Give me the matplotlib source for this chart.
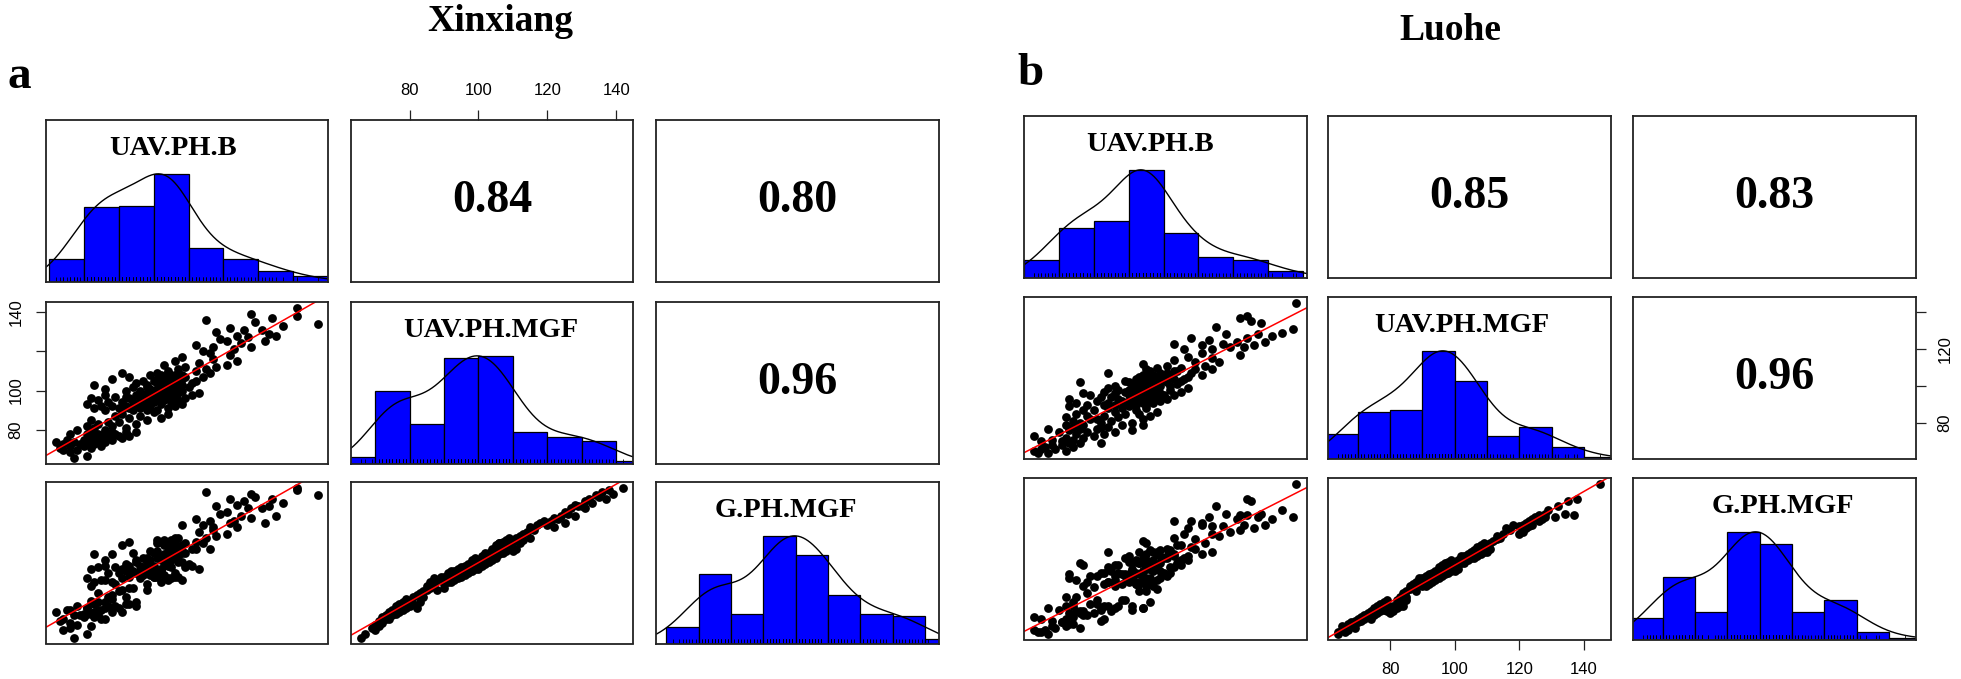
import numpy as np
import matplotlib
matplotlib.use("Agg")
import matplotlib.pyplot as plt
from matplotlib.transforms import blended_transform_factory

W, H = 1961, 679
SERIF = "Liberation Serif"
SANS = "Liberation Sans"

# -------------------------------------------------------------------
# 1.  data (cm), one entry per plot
# -------------------------------------------------------------------
xin_mgf = [
    66, 67, 69,
    70, 70, 71, 71, 72, 72, 72, 73, 73, 73, 74, 74, 74, 74, 75, 75, 75, 75,
    76, 76, 76, 76, 77, 77, 77, 77, 78, 78, 78, 78, 79, 79, 79, 79, 79,
    80, 80, 81, 81, 82, 82, 83, 83, 84, 84, 85, 85, 86, 86, 87, 87, 88, 88, 89,
    90, 90, 90, 90, 90, 91, 91, 91, 91, 91, 92, 92, 92, 92, 92,
    93, 93, 93, 93, 93, 94, 94, 94, 94, 94, 95, 95, 95, 95, 95,
    96, 96, 96, 96, 96, 97, 97, 97, 97, 97, 98, 98, 98, 98, 98,
    99, 99, 99, 99, 99, 99,
    100, 100, 100, 100, 100, 101, 101, 101, 101, 101,
    102, 102, 102, 102, 102, 102, 103, 103, 103, 103, 103,
    104, 104, 104, 104, 104, 104, 105, 105, 105, 105, 105,
    106, 106, 106, 106, 106, 107, 107, 107, 107, 107,
    108, 108, 108, 108, 108, 109, 109, 109, 109, 109,
    110, 110, 111, 111, 112, 112, 113, 113, 114, 115, 115, 116, 117, 118, 119,
    120, 121, 122, 122, 123, 124, 125, 125, 126, 127, 128, 128, 129,
    130, 131, 131, 132, 133, 134, 135, 136, 137, 138, 139,
    142]
xin_g = [
    60, 62, 65,
    64, 67, 66, 69, 68, 71, 70, 70, 72, 71, 72, 73, 70, 74, 73, 72, 75, 74,
    73, 75, 77, 74, 74, 76, 75, 78, 76, 77, 79, 75, 76, 78, 80, 77, 81,
    77, 79, 78, 82, 76, 83, 79, 84, 85, 82, 86, 88, 87, 90, 89, 92, 91, 86, 93,
    87, 91, 93, 92, 89, 90, 94, 92, 95, 93, 91, 95, 93, 96, 90,
    94, 92, 96, 95, 91, 97, 93, 95, 96, 92, 97, 94, 98, 96, 93,
    99, 95, 97, 94, 98, 96, 99, 98, 95, 100, 97, 101, 99, 96, 102,
    98, 100, 97, 103, 99, 101,
    97, 99, 102, 101, 98, 103, 100, 99, 104, 102,
    101, 105, 103, 100, 106, 104, 102, 106, 105, 104, 101,
    107, 103, 105, 108, 102, 106, 104, 108, 106, 110, 103,
    107, 111, 105, 111, 108, 110, 106, 112, 108, 111,
    112, 113, 110, 107, 112, 111, 108, 113, 114, 110,
    107, 112, 108, 114, 111, 115, 113, 116, 117, 114, 120, 118, 121, 122, 123,
    121, 123, 120, 125, 124, 126, 122, 128, 127, 130, 126, 132, 131,
    131, 134, 130, 135, 133, 137, 136, 139, 135, 140, 138,
    141]
xin_b = [
    57, 61, 56,
    54, 58, 62, 53, 56, 60, 65, 54, 59, 63, 57, 61, 66, 52, 60, 64, 55, 68,
    62, 64, 67, 71, 63, 70, 65, 73, 61, 69, 64, 56, 66, 72, 62, 75, 68,
    58, 66, 63, 72, 61, 68, 75, 64, 70, 67, 78, 62, 73, 82, 69, 76, 84, 71, 80,
    74, 66, 81, 71, 78, 63, 76, 84, 70, 73, 65, 79, 86, 72, 68,
    77, 61, 82, 75, 88, 71, 80, 67, 74, 85, 78, 83, 64, 76, 87,
    73, 81, 62, 79, 89, 77, 84, 69, 86, 72, 82, 75, 91, 80, 66,
    85, 78, 93, 83, 80, 87,
    82, 76, 85, 88, 72, 81, 84, 66, 87, 79,
    83, 86, 78, 90, 74, 85, 82, 88, 63, 84, 78,
    81, 86, 83, 91, 75, 87, 82, 92, 80, 85, 77,
    88, 84, 68, 81, 86, 83, 89, 73, 87, 94,
    82, 85, 88, 79, 86, 84, 96, 81, 87, 71,
    84, 92, 87, 95, 89, 98, 83, 101, 93, 86, 104, 97, 88, 102, 96,
    94, 103, 97, 108, 92, 105, 112, 101, 99, 107, 115, 104, 113,
    98, 106, 111, 102, 117, 127, 109, 95, 114, 121, 108,
    121]

luo_mgf = [
    64, 64, 65, 65, 66, 66, 67, 67, 68, 68, 69, 69, 69,
    70, 70, 71, 71, 72, 72, 73, 73, 74, 74, 75, 75, 75,
    76, 76, 77, 77, 77, 78, 78, 78, 79, 79, 79, 79,
    80, 80, 80, 81, 81, 82, 82, 82, 83, 83, 84, 84, 84,
    85, 85, 85, 86, 86, 87, 87, 87, 88, 88, 88, 89, 89,
    90, 90, 90, 90, 90, 90, 91, 91, 91, 91, 91, 91,
    92, 92, 92, 92, 92, 92, 93, 93, 93, 93, 93, 93,
    94, 94, 94, 94, 94, 94, 95, 95, 95, 95, 95, 95,
    96, 96, 96, 96, 96, 96, 97, 97, 97, 97, 97, 97,
    98, 98, 98, 98, 98, 99, 99, 99, 99, 99,
    100, 100, 100, 100, 100, 101, 101, 101, 101, 101,
    102, 102, 102, 102, 102, 103, 103, 103, 103, 103,
    104, 104, 104, 104, 105, 105, 105, 105,
    106, 106, 106, 106, 107, 107, 107, 107,
    108, 108, 108, 109, 109, 109,
    110, 110, 111, 111, 112, 113, 113, 114, 115, 116, 117, 118,
    120, 120, 121, 121, 122, 122, 123, 123, 124, 124, 125, 126, 126, 127, 128, 128, 129,
    131, 132, 134, 135, 137, 138,
    145]
luo_g = [
    65, 64, 66, 68, 65, 67, 69, 66, 70, 68, 67, 71, 69,
    72, 70, 73, 71, 74, 72, 75, 73, 76, 72, 77, 74, 78,
    75, 79, 76, 78, 80, 77, 79, 81, 78, 76, 82, 79,
    75, 78, 77, 79, 76, 80, 78, 82, 79, 84, 81, 79, 86,
    82, 87, 84, 90, 88, 89, 91, 90, 91, 87, 92, 93, 94,
    91, 93, 90, 92, 94, 91, 92, 95, 90, 93, 94, 92,
    93, 96, 91, 94, 95, 92, 94, 97, 92, 95, 96, 93,
    95, 98, 93, 96, 97, 94, 96, 100, 94, 97, 98, 95,
    97, 100, 95, 98, 99, 101, 98, 101, 96, 99, 102, 97,
    100, 103, 97, 101, 99, 102, 104, 98, 100, 103,
    98, 102, 101, 103, 100, 99, 103, 102, 104, 101,
    103, 105, 102, 104, 106, 104, 102, 106, 105, 103,
    106, 104, 107, 105, 107, 105, 108, 106,
    108, 109, 107, 105, 109, 111, 108, 106,
    109, 112, 107, 110, 108, 113,
    108, 112, 113, 110, 114, 115, 117, 116, 118, 121, 120, 123,
    118, 122, 119, 123, 124, 121, 125, 122, 126, 123, 127, 125, 128, 126, 129, 127, 131,
    127, 133, 129, 136, 128, 137,
    145]
luo_b = [
    54, 57, 53, 62, 55, 59, 64, 56, 61, 58, 66, 72, 63,
    55, 61, 64, 58, 67, 62, 70, 53, 65, 73, 60, 68, 76,
    63, 81, 66, 57, 71, 72, 74, 64, 84, 67, 78, 62,
    66, 72, 81, 64, 75, 69, 84, 71, 77, 62, 86, 73, 68,
    79, 83, 65, 76, 88, 70, 82, 67, 78, 85, 74, 80, 63,
    82, 76, 85, 68, 80, 73, 84, 79, 87, 65, 81, 74,
    86, 78, 83, 89, 71, 80, 85, 77, 82, 91, 63, 84,
    81, 75, 88, 83, 72, 86, 80, 93, 84, 90, 87, 69,
    82, 85, 76, 89, 81, 67, 84, 95, 79, 86, 83, 73,
    88, 80, 92, 77, 85, 83, 97, 81, 74, 87,
    84, 89, 76, 82, 92, 86, 81, 94, 85, 88,
    83, 91, 66, 87, 80, 95, 84, 89, 79, 86,
    93, 82, 88, 96, 85, 90, 83, 97,
    87, 92, 101, 84, 89, 98, 74, 91,
    86, 94, 93, 99, 104, 85,
    88, 95, 102, 91, 84, 99, 106, 93, 104, 97, 112, 101,
    96, 104, 109, 113, 101, 116, 93, 107, 111, 119, 103, 98, 114, 121, 108, 117, 124,
    127, 105, 118, 115, 112, 114,
    128]

var_names = ["UAV.PH.B", "UAV.PH.MGF", "G.PH.MGF"]
xin_r = ["0.84", "0.80", "0.96"]   # B-MGF, B-G, MGF-G
luo_r = ["0.85", "0.83", "0.96"]
mgf_ticks = [80, 100, 120, 140]

PW, PH = 282.5, 161.5   # panel size in px


# -------------------------------------------------------------------
# 2.  helpers (R pairs.panels look)
# -------------------------------------------------------------------
def pad_range(v):
    d = (v.max() - v.min()) * 0.04
    return v.min() - d, v.max() + d


def density_nrd(v, adjust=1.2):
    sd = v.std(ddof=1)
    q1, q3 = np.percentile(v, [25, 75])
    bw = 1.06 * min(sd, (q3 - q1) / 1.34) * len(v) ** -0.2 * adjust
    gx = np.linspace(v.min() - 3 * bw, v.max() + 3 * bw, 512)
    gy = np.exp(-0.5 * ((gx[:, None] - v[None, :]) / bw) ** 2).sum(axis=1)
    return gx, gy / gy.max()


def panel(fig, x0, y0):
    return fig.add_axes([x0 / W, 1 - (y0 + PH) / H, PW / W, PH / H])


def draw_pairs(fig, cols, r_text, col_x, row_y, name_x):
    cols = [np.asarray(c, float) for c in cols]
    lims = [pad_range(c) for c in cols]
    r_pos = {(0, 1): 0, (0, 2): 1, (1, 2): 2}
    grid = {}
    for i in range(3):
        for j in range(3):
            ax = panel(fig, col_x[j], row_y[i])
            ax.set_xlim(lims[j])
            ax.set_xticks([])
            ax.set_yticks([])
            for s in ax.spines.values():
                s.set_linewidth(1.3)
                s.set_color("#222222")
            if i == j:
                v = cols[j]
                edges = np.arange(np.floor(v.min() / 10) * 10,
                                  np.floor(v.max() / 10) * 10 + 11, 10)
                counts, _ = np.histogram(v, bins=edges)
                ax.bar(edges[:-1], counts / counts.max(), width=np.diff(edges),
                       align="edge", color="#0000ff", edgecolor="black",
                       linewidth=0.9)
                dx, dy = density_nrd(v)
                ax.plot(dx, dy, color="black", lw=1.0)
                tr = blended_transform_factory(ax.transData, ax.transAxes)
                ax.vlines(v, 0, 0.03, transform=tr, color="black", lw=0.6)
                ax.set_ylim(0, 1.5)
                ax.text(name_x[i], 0.785, var_names[i], transform=ax.transAxes,
                        ha="center", va="baseline", fontfamily=SERIF,
                        fontweight="bold", fontsize=20.5)
            else:
                ax.set_ylim(lims[i])
            if i < j:
                ax.text(0.5, 0.43, r_text[r_pos[(i, j)]], transform=ax.transAxes,
                        ha="center", va="baseline", fontfamily=SERIF,
                        fontweight="bold", fontsize=33)
            if i > j:
                ax.scatter(cols[j], cols[i], s=40, color="black", linewidths=0)
                m, b = np.polyfit(cols[j], cols[i], 1)
                ax.axline((0, b), slope=m, color="red", lw=1.1)
            grid[i, j] = ax
    return grid


def style_ticks(ax):
    ax.tick_params(direction="out", length=7, width=0.9, pad=9,
                   labelsize=12, color="#222222")


# -------------------------------------------------------------------
# 3.  figure
# -------------------------------------------------------------------
fig = plt.figure(figsize=(W / 100, H / 100), dpi=100)

ga = draw_pairs(fig, [xin_b, xin_mgf, xin_g], xin_r,
                [45.6, 351, 656], [120, 302, 482], [0.45, 0.495, 0.46])
gb = draw_pairs(fig, [luo_b, luo_mgf, luo_g], luo_r,
                [1024, 1328, 1633], [116, 297, 478], [0.447, 0.472, 0.532])

# axes shown in the original composite
ax = ga[0, 1]
ax.xaxis.set_ticks_position("top")
ax.set_xticks(mgf_ticks, [str(t) for t in mgf_ticks], fontfamily=SANS)
style_ticks(ax)

ax = ga[1, 0]
ax.set_yticks(mgf_ticks, ["80", "100", "", "140"], rotation=90,
              va="center", fontfamily=SANS)
style_ticks(ax)

ax = gb[2, 1]
ax.set_xticks(mgf_ticks, [str(t) for t in mgf_ticks], fontfamily=SANS)
style_ticks(ax)

ax = gb[1, 2]
ax.yaxis.set_ticks_position("right")
ax.set_yticks(mgf_ticks, ["80", "", "120", ""], rotation=90,
              va="center", fontfamily=SANS)
style_ticks(ax)

fig.text(500.5 / W, 1 - 31 / H, "Xinxiang", ha="center", va="baseline",
         fontfamily=SERIF, fontweight="bold", fontsize=27)
fig.text(1450 / W, 1 - 40 / H, "Luohe", ha="center", va="baseline",
         fontfamily=SERIF, fontweight="bold", fontsize=27)
fig.text(19 / W, 1 - 88 / H, "a", ha="center", va="baseline",
         fontfamily=SERIF, fontweight="bold", fontsize=34)
fig.text(1031 / W, 1 - 85 / H, "b", ha="center", va="baseline",
         fontfamily=SERIF, fontweight="bold", fontsize=34)

fig.savefig("out.png", dpi=100)
